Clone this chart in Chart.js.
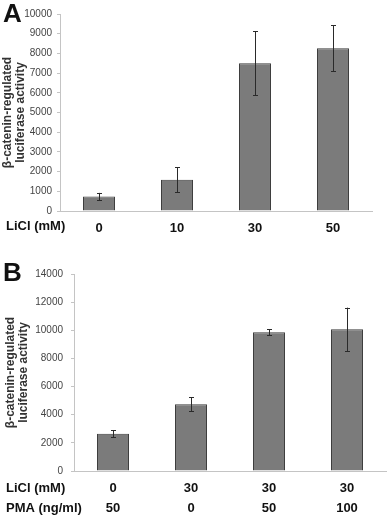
<!DOCTYPE html>
<html>
<head>
<meta charset="utf-8">
<script src="https://cdn.jsdelivr.net/npm/chart.js@4.4.1/dist/chart.umd.min.js"></script>
<style>
  html, body { margin: 0; padding: 0; background: #fff; }
  .panel { position: absolute; left: 0; width: 388px; height: 258px; }
  #panelA { top: 0; }
  #panelB { top: 258px; }
</style>
</head>
<body>
<div class="panel" id="panelA"><canvas id="chartA" width="388" height="258"></canvas></div>
<div class="panel" id="panelB"><canvas id="chartB" width="388" height="258"></canvas></div>
<script>
// Panel A: LiCl dose
const liclA = ['0', '10', '30', '50'];
const meansA = [730, 1580, 7500, 8260];
const errA = [190, 640, 1620, 1160];
const ticksA = { max: 10000, step: 1000 };

// Panel B: LiCl + PMA
const liclB = ['0', '30', '30', '30'];
const pmaB = ['50', '0', '50', '100'];
const meansB = [2650, 4740, 9860, 10070];
const errB = [240, 510, 220, 1540];
const ticksB = { max: 14000, step: 2000 };

const rowHeadersA = ['LiCl (mM)'];
const rowHeadersB = ['LiCl (mM)', 'PMA (ng/ml)'];

const FONT = '"Liberation Sans", Arial, Helvetica, sans-serif';

// errorBars plugin: vertical whiskers with small caps, in scale coordinates
const errorBars = {
  id: 'errorBars',
  afterDatasetsDraw(chart, args, opts) {
    const ctx = chart.ctx;
    const y = chart.scales.y;
    const meta = chart.getDatasetMeta(0);
    const errs = opts.errors || [];
    ctx.save();
    ctx.strokeStyle = '#2a2a2a';
    ctx.lineWidth = 1;
    meta.data.forEach(function(bar, i) {
      const v = chart.data.datasets[0].data[i];
      const e = errs[i] || 0;
      const x = Math.round(bar.x) + 0.5;
      const yt = y.getPixelForValue(v + e);
      const yb = y.getPixelForValue(v - e);
      ctx.beginPath();
      ctx.moveTo(x, yt); ctx.lineTo(x, yb);
      ctx.moveTo(x - 2.5, Math.round(yt) + 0.5); ctx.lineTo(x + 2.5, Math.round(yt) + 0.5);
      ctx.moveTo(x - 2.5, Math.round(yb) + 0.5); ctx.lineTo(x + 2.5, Math.round(yb) + 0.5);
      ctx.stroke();
    });
    ctx.restore();
  }
};

// panelText plugin: big panel letter and the row headers left of the category labels
const panelText = {
  id: 'panelText',
  afterDraw(chart, args, opts) {
    const ctx = chart.ctx;
    const x = chart.scales.x;
    ctx.save();
    ctx.fillStyle = '#111';
    ctx.textBaseline = 'alphabetic';
    ctx.textAlign = 'left';
    ctx.font = 'bold 26px ' + FONT;
    ctx.fillText(opts.letter, 3, opts.letterY);
    ctx.font = 'bold 13px ' + FONT;
    ctx.textBaseline = 'middle';
    (opts.rows || []).forEach(function(r, i) {
      ctx.fillText(r, opts.rowX, x.top + opts.rowOffset + i * opts.rowGap);
    });
    ctx.restore();
  }
};

function makeChart(canvasId, labels, means, errs, tk, o) {
  return new Chart(document.getElementById(canvasId).getContext('2d'), {
    type: 'bar',
    data: {
      labels: labels,
      datasets: [{
        data: means,
        backgroundColor: '#7b7b7b',
        borderColor: '#3c3c3c',
        borderWidth: 1,
        categoryPercentage: 1,
        barPercentage: 0.41
      }]
    },
    options: {
      responsive: false,
      animation: false,
      devicePixelRatio: 1,
      layout: { padding: { top: o.top, right: o.right, left: 0, bottom: 0 } },
      plugins: {
        legend: { display: false },
        tooltip: { enabled: false },
        errorBars: { errors: errs },
        panelText: { letter: o.letter, letterY: o.letterY, rows: o.rows, rowX: 6, rowOffset: o.rowOffset, rowGap: 20 }
      },
      scales: {
        x: {
          afterFit: function(s) { s.height = o.xHeight; },
          grid: { display: true, drawOnChartArea: false, drawTicks: false },
          border: { color: '#c4c4c4', width: 1 },
          ticks: { color: '#111', padding: 7, font: { family: FONT, size: 13, weight: 'bold', lineHeight: 20 / 13 } }
        },
        y: {
          min: 0,
          max: tk.max,
          afterFit: function(s) { s.width = o.yWidth; },
          grid: { drawOnChartArea: false, drawTicks: true, tickLength: 3, color: '#c4c4c4' },
          border: { color: '#c4c4c4', width: 1 },
          ticks: {
            stepSize: tk.step, color: '#444', padding: o.tickPad,
            font: { family: FONT, size: 10 },
            callback: function(v) { return String(v); }
          },
          title: {
            display: true,
            text: ['\u03b2-catenin-regulated', 'luciferase activity'],
            color: '#333',
            padding: { top: o.titlePad, bottom: 0 },
            font: { family: FONT, size: 12, weight: 'bold', lineHeight: 13 / 12 }
          }
        }
      }
    },
    plugins: [errorBars, panelText]
  });
}

makeChart('chartA', liclA, meansA, errA, ticksA, {
  letter: 'A', letterY: 22, rows: rowHeadersA, rowOffset: 15,
  top: 14, right: 16, xHeight: 47, yWidth: 60, titlePad: 1.5, tickPad: 5
});

makeChart('chartB', liclB.map(function(l, i) { return [l, pmaB[i]]; }), meansB, errB, ticksB, {
  letter: 'B', letterY: 23, rows: rowHeadersB, rowOffset: 17,
  top: 16, right: 2, xHeight: 45, yWidth: 74, titlePad: 4, tickPad: 8
});
</script>
</body>
</html>
